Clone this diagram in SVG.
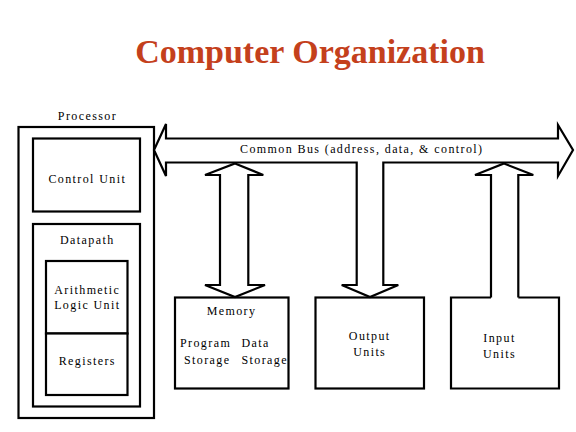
<svg xmlns="http://www.w3.org/2000/svg" width="576" height="432" viewBox="0 0 576 432">
<style>
.box{fill:#fff;stroke:#000;stroke-width:2.2}
.arr{fill:#fff;stroke:#000;stroke-width:2.2;stroke-linejoin:miter}
.t{font-family:"Liberation Serif","Times New Roman",serif;font-size:12px;letter-spacing:1.4px;fill:#000}
.c{text-anchor:middle}
.title{font-family:"Liberation Serif","Times New Roman",serif;font-size:34px;font-weight:bold;fill:#C4401C;text-anchor:middle}
</style>
<rect width="576" height="432" fill="#fff"/>
<text class="title" x="310" y="63">Computer Organization</text>
<g id="processor">
<rect class="box" x="18.5" y="127" width="135.5" height="291"/>
<text class="t c" x="87.5" y="119.5">Processor</text>
</g>
<g id="control-unit">
<rect class="box" x="33" y="138.5" width="107" height="73"/>
<text class="t c" x="87.3" y="183">Control Unit</text>
</g>
<g id="datapath">
<rect class="box" x="33" y="224" width="107" height="182.5"/>
<text class="t c" x="87.3" y="244">Datapath</text>
</g>
<g id="alu">
<rect class="box" x="46" y="261" width="81.5" height="72.5"/>
<text class="t c" x="87.3" y="293.5">Arithmetic</text>
<text class="t c" x="87.3" y="308.5">Logic Unit</text>
</g>
<g id="registers">
<rect class="box" x="46" y="333.5" width="81.5" height="61.5"/>
<text class="t c" x="87.3" y="365">Registers</text>
</g>
<g id="memory">
<rect class="box" x="175" y="297.5" width="113.5" height="91"/>
<text class="t c" x="231.5" y="314.5">Memory</text>
<text class="t" x="180" y="346.5">Program</text>
<text class="t" x="241.5" y="346.5">Data</text>
<text class="t" x="184" y="364">Storage</text>
<text class="t" x="241.5" y="364">Storage</text>
</g>
<g id="output-units">
<rect class="box" x="315.5" y="297.5" width="108.5" height="91"/>
<text class="t c" x="369.7" y="340">Output</text>
<text class="t c" x="369.7" y="356">Units</text>
</g>
<g id="input-units">
<path class="box" d="M491,297.5 L451,297.5 L451,388.5 L559,388.5 L559,297.5 L518.3,297.5"/>
<text class="t c" x="499.5" y="342.3">Input</text>
<text class="t c" x="499.5" y="358">Units</text>
</g>
<g id="connectors">
<path class="arr" d="M154,150 L166,124 L166,138.5 L558,138.5 L558,125 L573,150 L558,176 L558,162.5 L383.3,162.5 L383.3,285 L398.3,285 L370,297 L341.7,285 L356.7,285 L356.7,162.5 L166,162.5 L166,176 Z"/>
<path class="arr" d="M235,163.5 L263.3,175 L248.3,175 L248.3,285 L265,285 L235,297 L205,285 L220,285 L220,175 L205,175 Z"/>
<path class="arr" d="M491,297.5 L491,175 L475,175 L504,163.5 L533.3,175 L518.3,175 L518.3,297.5"/>
<text class="t" x="240" y="152.7">Common Bus (address, data, &amp; control)</text>
</g>
</svg>
